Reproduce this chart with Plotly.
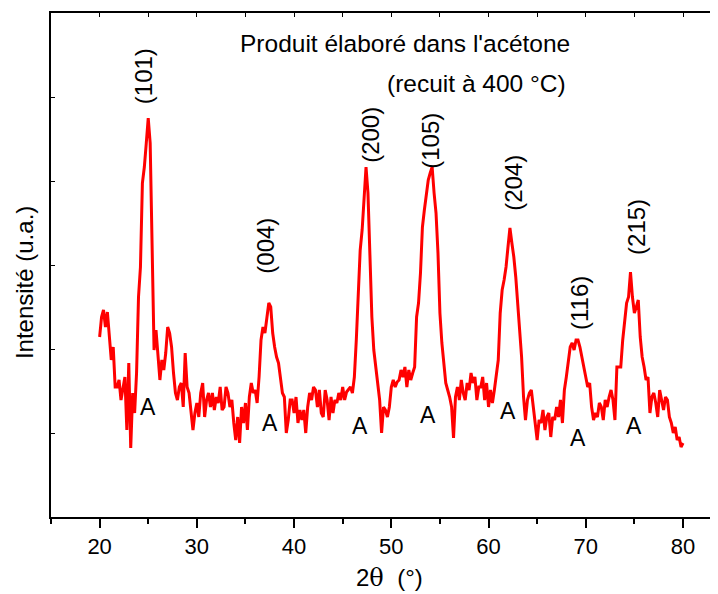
import plotly.graph_objects as go

# 2-theta scan: start, step (degrees) and intensities (arb. units)
two_theta_start = 20.0
two_theta_step = 0.2
intensity = [
    180, 200, 207, 190, 205, 177, 157, 170, 130, 130,
    137, 117, 127, 140, 87, 154, 69, 124, 104, 144,
    220, 250, 334, 350, 374, 399, 374, 267, 167, 187,
    164, 137, 157, 147, 164, 190, 184, 170, 144, 124,
    117, 130, 134, 110, 164, 130, 124, 104, 87, 104,
    114, 100, 124, 134, 100, 117, 124, 110, 124, 107,
    120, 114, 130, 107, 110, 130, 124, 110, 117, 94,
    77, 100, 74, 110, 94, 114, 87, 120, 134, 124,
    127, 114, 140, 177, 190, 184, 200, 214, 210, 184,
    170, 160, 154, 137, 124, 120, 84, 97, 117, 117,
    104, 120, 94, 107, 97, 107, 84, 110, 124, 117,
    130, 127, 110, 127, 104, 100, 127, 117, 97, 120,
    104, 117, 114, 124, 117, 130, 117, 125, 127, 130,
    124, 140, 177, 224, 267, 287, 317, 350, 324, 267,
    200, 167, 150, 130, 117, 84, 110, 107, 100, 110,
    130, 137, 130, 135, 137, 147, 140, 150, 130, 147,
    137, 144, 150, 200, 214, 244, 290, 307, 324, 337,
    344, 350, 324, 304, 264, 204, 174, 150, 134, 127,
    120, 110, 79, 120, 130, 117, 137, 124, 117, 134,
    127, 144, 134, 140, 117, 130, 130, 140, 117, 134,
    110, 127, 114, 127, 140, 157, 204, 227, 237, 250,
    270, 289, 274, 260, 240, 214, 184, 160, 120, 97,
    117, 124, 127, 110, 97, 77, 97, 94, 107, 87,
    100, 104, 80, 100, 97, 110, 100, 117, 94, 127,
    140, 157, 170, 174, 167, 177, 177, 170, 160, 147,
    137, 130, 134, 110, 97, 104, 100, 114, 110, 97,
    117, 110, 120, 127, 117, 97, 150, 150, 150, 177,
    197, 214, 220, 245, 220, 204, 210, 217, 180, 160,
    150, 137, 140, 104, 120, 124, 114, 100, 127, 117,
    107, 120, 117, 100, 94, 84, 90, 77, 80, 70, 74,
]
two_theta = [round(two_theta_start + i * two_theta_step, 2) for i in range(len(intensity))]

# peak labels (Miller indices) and their positions
peak_labels = ["(101)", "(004)", "(200)", "(105)", "(204)", "(116)", "(215)"]
peak_label_x = [24.48, 36.98, 47.79, 53.96, 62.5, 69.3, 75.16]
peak_label_y = [441, 271, 382, 376, 334, 214, 290]

# anatase markers
a_label_x = [24.94, 37.5, 46.76, 53.76, 61.99, 69.19, 74.96]
a_label_y = [110, 94, 91, 102, 106, 79, 91]

title_line1 = "Produit élaboré dans l'acétone"
title_line2 = "(recuit à 400 °C)"
x_tick_vals = [20, 30, 40, 50, 60, 70, 80]

FONT = "Liberation Sans, Arial, sans-serif"
NARROW = "Liberation Sans Narrow, Arial Narrow, Liberation Sans, Arial, sans-serif"

fig = go.Figure()
fig.add_trace(go.Scatter(
    x=two_theta, y=intensity, mode="lines",
    line=dict(color="#FF0000", width=3),
    showlegend=False, hoverinfo="skip",
))
# invisible trace on top axis so it is drawn
fig.add_trace(go.Scatter(x=[20], y=[0], xaxis="x2", mode="markers",
                         marker=dict(opacity=0), showlegend=False, hoverinfo="skip"))

annotations = []
for t, x, y in zip(peak_labels, peak_label_x, peak_label_y):
    annotations.append(dict(x=x, y=y, xref="x", yref="y", text=t, showarrow=False,
                            textangle=-90, xanchor="center", yanchor="middle",
                            font=dict(family=FONT, size=24, color="black")))
for x, y in zip(a_label_x, a_label_y):
    annotations.append(dict(x=x, y=y, xref="x", yref="y", text="A", showarrow=False,
                            xanchor="center", yanchor="middle",
                            font=dict(family=FONT, size=23, color="black")))
annotations.append(dict(x=34.2, y=474, xref="x", yref="y", text=title_line1, showarrow=False,
                        xanchor="left", yanchor="middle",
                        font=dict(family=FONT, size=24.5, color="black")))
annotations.append(dict(x=49.33, y=434, xref="x", yref="y", text=title_line2, showarrow=False,
                        xanchor="left", yanchor="middle",
                        font=dict(family=FONT, size=24.5, color="black")))
annotations.append(dict(x=49.84, y=-0.121, xref="x", yref="paper",
                        text='2<span style="font-family:DejaVu Serif">θ</span>  (°)',
                        showarrow=False, xanchor="center", yanchor="middle",
                        font=dict(family=NARROW, size=24, color="black")))
annotations.append(dict(x=-0.0405, y=0.466, xref="paper", yref="paper",
                        text="Intensité (u.a.)", showarrow=False, textangle=-90,
                        xanchor="center", yanchor="middle",
                        font=dict(family=FONT, size=24, color="black")))

# the page body adds an 8 px offset, so the figure is sized/margined to compensate
fig.update_layout(
    width=710, height=586,
    margin=dict(l=43, r=0, t=5, b=77, autoexpand=False),
    plot_bgcolor="white", paper_bgcolor="white",
    annotations=annotations,
    xaxis=dict(range=[15, 83.6], tickvals=x_tick_vals, ticks="outside", ticklen=9,
               tickwidth=1.5, tickcolor="black", showline=True, linewidth=2,
               linecolor="black", showgrid=False, zeroline=False,
               minor=dict(dtick=5, tick0=15, ticks="outside", ticklen=5, tickwidth=1.5,
                          tickcolor="black", showgrid=False),
               tickfont=dict(family=NARROW, size=22, color="black")),
    xaxis2=dict(range=[15, 83.6], overlaying="x", side="top", dtick=5, tick0=15,
                ticks="inside", ticklen=4, tickwidth=1.2, tickcolor="black",
                showticklabels=False, showline=True, linewidth=2, linecolor="black",
                showgrid=False, zeroline=False),
    yaxis=dict(range=[0, 504], dtick=84, ticks="inside", ticklen=4, tickwidth=1.2,
               tickcolor="black", showticklabels=False, showline=True, linewidth=2,
               linecolor="black", showgrid=False, zeroline=False),
)

fig.write_html("out.html")
